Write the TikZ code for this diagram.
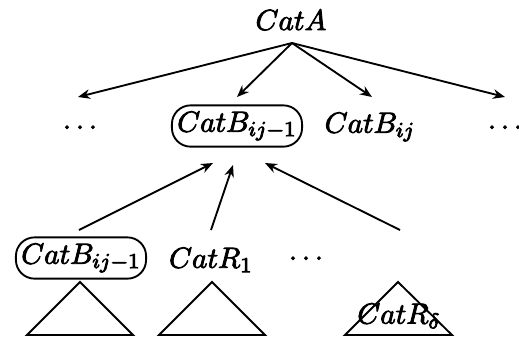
\documentclass[tikz,border=0pt]{standalone}
\usetikzlibrary{calc,arrows.meta}
\begin{document}
\begin{tikzpicture}[x=0.375pt,y=-0.375pt,
  % labels: glyphs filled and stroked for a slightly heavier look
  lbl/.style={inner sep=0pt,font=\fontsize{11}{13}\selectfont,
    execute at begin node=\special{pdf:literal direct 2 Tr 0.3 w},
    execute at end node=\special{pdf:literal direct 0 Tr}},
  pill/.style={lbl,draw,line width=0.7pt,rounded corners=7pt,inner xsep=2pt,inner ysep=2.4pt},
  link/.style={line width=0.7pt,-{Stealth[length=4.5pt,width=3.6pt]}},
  tri/.style={draw,line width=0.7pt,line join=miter}]
\useasboundingbox (0,0) rectangle (519,338);
% top category
\node[lbl] (A) at (291,20) {$CatA$};
\coordinate (Aout) at (292,43);
% middle row
\node[lbl] (d1) at (80,128) {$\cdots$};
\node[pill] (B1) at (237,126) {$CatB_{ij-1}$};
\node[lbl] (B2) at (370,127) {$CatB_{ij}$};
\node[lbl] (d2) at (505,128) {$\cdots$};
% bottom row
\node[pill] (C1) at (81,258) {$CatB_{ij-1}$};
\node[lbl] (R1) at (211,260) {$CatR_1$};
\node[lbl] (d3) at (306,259) {$\cdots$};
% subtrees
\coordinate (T1) at (80,282);
\coordinate (T2) at (212,282);
\coordinate (T3) at (398,282);
\draw[tri] (T1) -- ++(-53,53) -- ++(106,0) -- cycle;
\draw[tri] (T2) -- ++(-53,53) -- ++(106,0) -- cycle;
\draw[tri] (T3) -- ++(-53,53) -- ++(107,0) -- cycle;
\node[lbl] (Rd) at (399,316) {$CatR_\delta$};
% arrows from CatA
\draw[link] (Aout) -- ($(d1)+(-2,-31)$);
\draw[link] (Aout) -- ($(B1)+(0,-29)$);
\draw[link] (Aout) -- ($(B2)+(2,-30)$);
\draw[link] (Aout) -- ($(d2)+(0,-31)$);
% arrows into CatB_{ij-1}
\draw[link] ($(C1)+(-2,-28)$) -- ($(B1)+(-24,37)$);
\draw[link] ($(R1)+(0,-30)$) -- ($(B1)+(-4,39)$);
\draw[link] ($(T3)+(2,-52)$) -- ($(B1)+(28,37)$);
\end{tikzpicture}
\end{document}
